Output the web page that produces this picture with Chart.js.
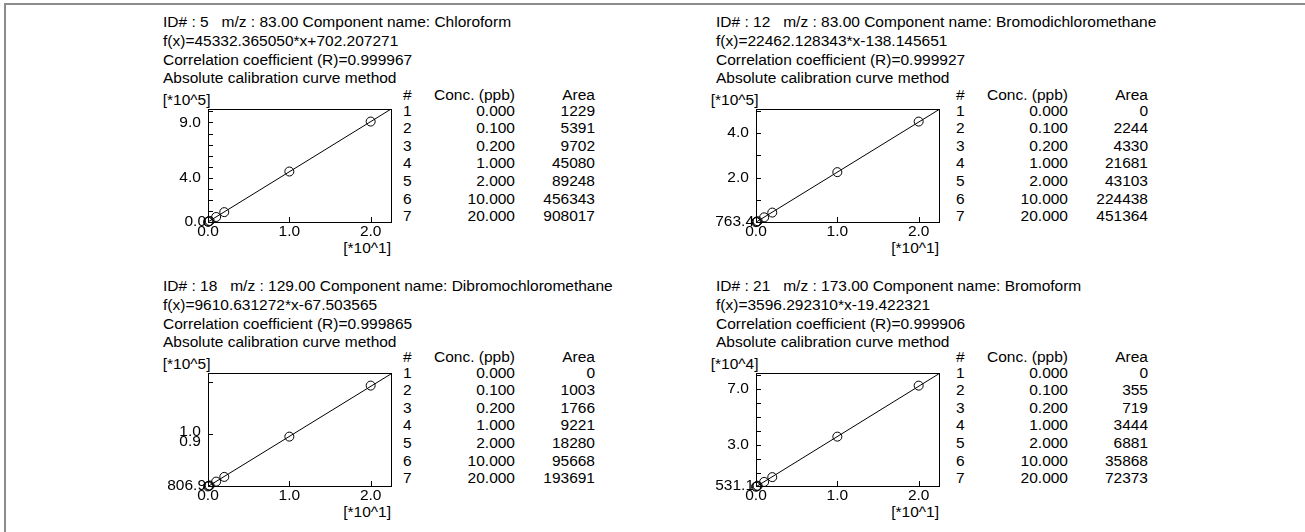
<!DOCTYPE html>
<html><head><meta charset="utf-8">
<script src="https://cdn.jsdelivr.net/npm/chart.js@4/dist/chart.umd.min.js"></script>
<style>
html,body{margin:0;padding:0;background:#fff;}
body{width:1305px;height:532px;position:relative;overflow:hidden;font-family:"Liberation Sans",Arial,sans-serif;font-size:15.5px;color:#000;}
.frameTop{position:absolute;left:5px;top:3px;width:1300px;height:2px;background:#8c8c8c;}
.frameLeft{position:absolute;left:4px;top:3px;width:2px;height:529px;background:#8c8c8c;}
.tx{position:absolute;white-space:pre;line-height:18px;height:18px;}
.r{text-align:right;width:200px;}
canvas{position:absolute;}
</style></head><body>
<div class="frameTop"></div><div class="frameLeft"></div>
<script>
// ---------- data ----------
const conc = [0.000, 0.100, 0.200, 1.000, 2.000, 10.000, 20.000];
const concText = ["0.000","0.100","0.200","1.000","2.000","10.000","20.000"];
const area1 = [1229, 5391, 9702, 45080, 89248, 456343, 908017];
const area2 = [0, 2244, 4330, 21681, 43103, 224438, 451364];
const area3 = [0, 1003, 1766, 9221, 18280, 95668, 193691];
const area4 = [0, 355, 719, 3444, 6881, 35868, 72373];
const areas = [area1, area2, area3, area4];

const ids = ["5", "12", "18", "21"];
const mzs = ["83.00", "83.00", "129.00", "173.00"];
const names = ["Chloroform", "Bromodichloromethane", "Dibromochloromethane", "Bromoform"];
const slopes = [45332.365050, 22462.128343, 9610.631272, 3596.292310];
const intercepts = [702.207271, -138.145651, -67.503565, -19.422321];
const eqText = ["f(x)=45332.365050*x+702.207271", "f(x)=22462.128343*x-138.145651",
                "f(x)=9610.631272*x-67.503565", "f(x)=3596.292310*x-19.422321"];
const rText = ["0.999967", "0.999927", "0.999865", "0.999906"];

const xMin = 0, xMax = 22.5;
const xLabelTicks = [0, 10, 20];
const xLabelText = ["0.0", "1.0", "2.0"];
const xMinorTicks = [10, 20];

const yMins = [0, 763.4, 806.9, 531.1];
const yMaxs = [1021500, 507800, 217900, 81420];
const yUnit = ["[*10^5]", "[*10^5]", "[*10^5]", "[*10^4]"];
const yLabelTicks = [[0, 400000, 900000], [763.4, 200000, 400000], [806.9, 95000], [531.1, 30000, 70000]];
const yLabelText = [["0.0", "4.0", "9.0"], ["763.4", "2.0", "4.0"], ["806.9", ["1.0", "0.9"]], ["531.1", "3.0", "7.0"]];
const yMinorTicks = [
  [100000, 200000, 300000, 400000, 500000, 600000, 700000, 800000, 900000, 1000000],
  [100000, 200000, 300000, 400000, 500000],
  [100000, 200000],
  [10000, 20000, 30000, 40000, 50000, 60000, 70000, 80000]
];

// ---------- layout ----------
const boxDX = [0, 548, 0, 548];
const hdrDX = [0, 553, 0, 553];
const tblDX = [0, 553, 0, 553];
const boxDY = [0, 0, 264, 264];
const tblDY = [0, 0, 262, 262];
const BOX_L = 208, BOX_T = 109, BOX_W = 183, BOX_H = 113;
const GAP = "\u2004";

function addText(txt, x, yc, right) {
  const d = document.createElement('div');
  d.className = 'tx' + (right ? ' r' : '');
  d.textContent = txt;
  d.style.left = (right ? x - 200 : x) + 'px';
  d.style.top = (yc - 9) + 'px';
  document.body.appendChild(d);
}

const boxPlugin = {
  id: 'boxTicks',
  afterDatasetsDraw(chart, args, opts) {
    const ctx = chart.ctx, a = chart.chartArea;
    const xs = chart.scales.x, ys = chart.scales.y;
    ctx.save();
    ctx.strokeStyle = '#000';
    ctx.lineWidth = 1;
    ctx.strokeRect(Math.round(a.left) + 0.5, Math.round(a.top) + 0.5, Math.round(a.right - a.left), Math.round(a.bottom - a.top));
    ctx.beginPath();
    opts.yMinor.forEach(v => {
      const py = Math.round(ys.getPixelForValue(v)) + 0.5;
      if (py < a.top + 1 || py > a.bottom - 1) return;
      ctx.moveTo(a.left, py); ctx.lineTo(a.left + 5, py);
    });
    opts.xMinor.forEach(v => {
      const px = Math.round(xs.getPixelForValue(v)) + 0.5;
      ctx.moveTo(px, a.bottom); ctx.lineTo(px, a.bottom - 5);
    });
    ctx.stroke();
    ctx.restore();
  }
};

for (let i = 0; i < 4; i++) {
  const bx = boxDX[i], hx = hdrDX[i], tx = tblDX[i], dy = boxDY[i], ty = tblDY[i];
  // header
  addText("ID# : " + ids[i] + "   m/z : " + mzs[i] + " Component name: " + names[i], 163 + hx, 21.7 + dy);
  addText(eqText[i], 163 + hx, 40.6 + dy);
  addText("Correlation coefficient (R)=" + rText[i], 163 + hx, 59.5 + dy);
  addText("Absolute calibration curve method", 163 + hx, 78.4 + dy);
  // units
  addText(yUnit[i], 210.5 + bx, 100 + dy, true);
  addText("[*10^1]", 391 + bx, 247.5 + dy, true);
  // table
  addText("#", 403 + tx, 95 + ty);
  addText("Conc. (ppb)", 515 + tx, 95 + ty, true);
  addText("Area", 595 + tx, 95 + ty, true);
  for (let k = 0; k < conc.length; k++) {
    const yc = 110.5 + k * 17.6 + ty;
    addText(String(k + 1), 403 + tx, yc);
    addText(concText[k], 515 + tx, yc, true);
    addText(String(areas[i][k]), 595 + tx, yc, true);
  }

  // chart canvas
  const padL = 70, padT = 12, padR = 14, padB = 30;
  const cv = document.createElement('canvas');
  const W = padL + BOX_W + padR, H = padT + BOX_H + padB;
  cv.width = W; cv.height = H;
  cv.style.width = W + 'px'; cv.style.height = H + 'px';
  cv.style.left = (BOX_L - padL + bx) + 'px';
  cv.style.top = (BOX_T - padT + dy) + 'px';
  document.body.appendChild(cv);

  const pts = conc.map((c, k) => ({ x: c, y: areas[i][k] }));
  const linePts = [xMin, xMax].map(x => ({ x: x, y: slopes[i] * x + intercepts[i] }));
  const font = { family: '"Liberation Sans", Arial, sans-serif', size: 15.5 };

  new Chart(cv, {
    type: 'scatter',
    data: {
      datasets: [
        { type: 'line', data: linePts, borderColor: '#000', borderWidth: 1, pointRadius: 0, fill: false, tension: 0 },
        { data: pts, pointStyle: 'circle', pointRadius: 4.5, borderColor: '#000', borderWidth: 1, backgroundColor: 'rgba(0,0,0,0)', clip: false }
      ]
    },
    options: {
      responsive: false, animation: false, devicePixelRatio: 1,
      layout: { padding: { left: 0, top: padT, right: padR, bottom: 0 } },
      plugins: { legend: { display: false }, tooltip: { enabled: false }, boxTicks: { yMinor: yMinorTicks[i], xMinor: xMinorTicks } },
      scales: {
        x: {
          type: 'linear', min: xMin, max: xMax,
          grid: { display: false, drawTicks: false }, border: { display: false },
          afterBuildTicks: s => { s.ticks = xLabelTicks.map(v => ({ value: v })); },
          afterFit: s => { s.height = padB; },
          ticks: { color: '#000', font: font, padding: 0, maxRotation: 0, autoSkip: false,
                   callback: (v, idx) => xLabelText[idx] }
        },
        y: {
          type: 'linear', min: yMins[i], max: yMaxs[i],
          grid: { display: false, drawTicks: false }, border: { display: false },
          afterBuildTicks: s => { s.ticks = yLabelTicks[i].map(v => ({ value: v })); },
          afterFit: s => { s.width = padL; },
          ticks: { color: '#000', font: Object.assign({}, font, { lineHeight: 0.62 }), padding: 2, autoSkip: false,
                   callback: (v, idx) => {
                     const t = yLabelText[i][idx];
                     if (idx === 0) return t;
                     return Array.isArray(t) ? t.map(s => s + GAP) : t + GAP;
                   } }
        }
      }
    },
    plugins: [boxPlugin]
  });
}
</script>
</body></html>
